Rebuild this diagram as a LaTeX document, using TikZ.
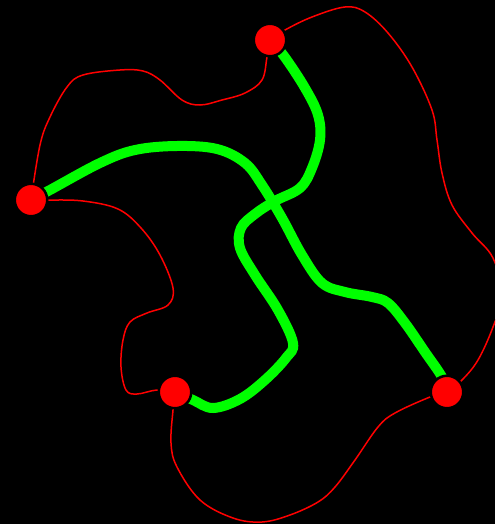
\documentclass[tikz,border=0pt]{standalone}
\usetikzlibrary{backgrounds}
\begin{document}
\begin{tikzpicture}[x=1pt,y=-1pt,
  vertex/.style={circle,fill=red,draw=black,line width=2.5pt,inner sep=0pt,minimum size=32.5pt},
  thinedge/.style={draw=red,line width=1.5pt},
  thickedge/.style={draw=green,line width=10pt}]
  \useasboundingbox (0,0) rectangle (495,524);

  % vertices
  \node[vertex] (t) at (270,40) {};
  \node[vertex] (l) at (31,200) {};
  \node[vertex] (b) at (175,392) {};
  \node[vertex] (r) at (447,392) {};

  \begin{scope}[on background layer]
    \fill[black] (0,0) rectangle (495,524);
    \clip (0,0) rectangle (495,524);
    % thin red edges
    \draw[thinedge] plot[smooth,tension=0.6] coordinates {
      (t) (285,30) (312,17) (345,7) (365,12) (388,33) (412,67) (432,110)
      (437,140) (442,173) (452,205) (472,233) (493,258) (502,295) (493,327)
      (478,360) (462,380) (r)};
    \draw[thinedge] plot[smooth,tension=0.6] coordinates {
      (t) (267,57) (262,80) (245,93) (222,100) (200,105) (182,100)
      (160,80) (143,71) (120,70) (83,75) (67,87) (50,117) (40,145) (l)};
    \draw[thinedge] plot[smooth,tension=0.6] coordinates {
      (l) (48,200) (83,201) (118,209) (141,228) (160,255) (173,288)
      (168,305) (147,313) (130,322) (123,340) (121,367) (126,390)
      (137,394) (157,390) (b)};
    \draw[thinedge] plot[smooth,tension=0.6] coordinates {
      (b) (173,410) (171,443) (177,467) (200,500) (233,518) (262,522)
      (290,515) (318,502) (335,487) (355,460) (378,427) (395,413)
      (430,397) (r)};
    % thick green edges
    \draw[thickedge] plot[smooth,tension=0.6] coordinates {
      (l) (50,190) (100,163) (135,150) (177,146) (217,149) (245,163)
      (262,185) (282,218) (302,255) (322,283) (345,292) (372,297)
      (388,303) (405,323) (425,352) (442,377) (r)};
    \draw[thickedge] plot[smooth,tension=0.6] coordinates {
      (t) (284,56) (305,88) (318,115) (320,140) (312,168) (300,188)
      (275,201) (255,214) (241,228) (240,248) (255,275) (278,310)
      (293,343) (286,358) (265,380) (240,399) (213,408) (193,400) (b)};
  \end{scope}
\end{tikzpicture}
\end{document}
